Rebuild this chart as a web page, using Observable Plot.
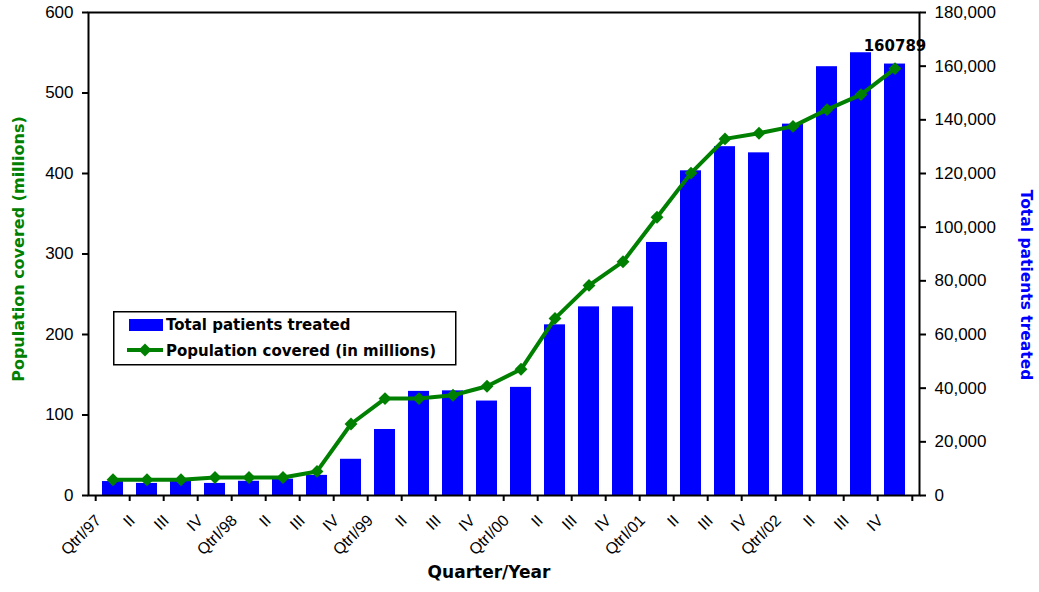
<!DOCTYPE html>
<html>
<head>
<meta charset="utf-8">
<script src="https://cdn.jsdelivr.net/npm/d3@7"></script>
<script src="https://cdn.jsdelivr.net/npm/@observablehq/plot@0.6"></script>
<style>
  body { margin: 0; background: #fff; }
  #wrap { position: relative; width: 1039px; height: 592px; overflow: hidden; }
  #legend { position: absolute; left: 113px; top: 311px; }
</style>
</head>
<body>
<div id="wrap"><div id="chart"></div><div id="legend"></div></div>
<script>
// ---- data ----
const quarterKeys = [
  "1997Q1","1997Q2","1997Q3","1997Q4",
  "1998Q1","1998Q2","1998Q3","1998Q4",
  "1999Q1","1999Q2","1999Q3","1999Q4",
  "2000Q1","2000Q2","2000Q3","2000Q4",
  "2001Q1","2001Q2","2001Q3","2001Q4",
  "2002Q1","2002Q2","2002Q3","2002Q4"
];
const tickLabels = [
  "QtrI/97","II","III","IV",
  "QtrI/98","II","III","IV",
  "QtrI/99","II","III","IV",
  "QtrI/00","II","III","IV",
  "QtrI/01","II","III","IV",
  "QtrI/02","II","III","IV"
];
// Total patients treated (right axis)
const patients = [
  5200, 4500, 5600, 4500, 5300, 6100, 7500, 13500,
  24600, 38800, 39000, 35200, 40300, 63600, 70300, 70300,
  94300, 121000, 130000, 127700, 138400, 159800, 165000, 160789
];
// Population covered in millions (left axis)
const population = [
  19.5, 19.5, 19.5, 22.4, 22.4, 22.4, 29.9, 88.8,
  120.4, 120.4, 124.5, 135.7, 156.8, 220, 261, 290.4,
  345.7, 400.5, 443, 450, 458.5, 479.3, 498, 530.3
];
const leftTicks = [0, 100, 200, 300, 400, 500, 600];
const rightTicks = [0, 20000, 40000, 60000, 80000, 100000, 120000, 140000, 160000, 180000];
const RATIO = 180000 / 600; // right-axis units per left-axis unit

const table = quarterKeys.map((q, i) => ({
  q, label: tickLabels[i], patients: patients[i], population: population[i]
}));

// ---- layout ----
const W = 1039, H = 592;
const mL = 88, mR = 120, mT = 12, mB = 97;
const plotW = W - mL - mR, plotH = H - mT - mB;
const step = plotW / quarterKeys.length;
const BLUE = "#0000ff", GREEN = "#008000";
const BOLD = "DejaVu Sans";

const chart = Plot.plot({
  width: W, height: H,
  marginLeft: mL, marginRight: mR, marginTop: mT, marginBottom: mB,
  style: { fontFamily: "'Liberation Sans', Arial, sans-serif", fontSize: "17px", background: "#fff", color: "#000" },
  x: { type: "band", domain: quarterKeys, paddingInner: 0.38, paddingOuter: 0.19, axis: null },
  y: { domain: [0, 600] },
  marks: [
    Plot.barY(table, { x: "q", y: d => d.patients / RATIO, fill: BLUE }),
    Plot.line(table, { x: "q", y: "population", stroke: GREEN, strokeWidth: 4, curve: "linear" }),
    Plot.dot(table, { x: "q", y: "population", symbol: "diamond2", r: 5.8, fill: GREEN, stroke: "none" }),
    Plot.text([table[table.length - 1]], {
      x: "q", y: d => d.patients / RATIO, text: d => String(d.patients),
      dy: -18, fontFamily: BOLD, fontWeight: "bold", fontSize: 15, fill: "#000"
    }),
    Plot.frame({ stroke: "#000", strokeWidth: 2 }),
    Plot.axisY({
      ticks: leftTicks, tickSize: 6, tickPadding: 9, label: null, strokeWidth: 2,
      fontSize: 17
    }),
    Plot.axisY({
      anchor: "right", ticks: rightTicks.map(v => v / RATIO),
      tickFormat: d => d3.format(",")(Math.round(d * RATIO)),
      tickSize: 6, tickPadding: 9, label: null, strokeWidth: 2, fontSize: 17
    }),
    // category boundary ticks
    Plot.ruleX(table, { x: "q", dx: -step / 2, insetTop: plotH, insetBottom: -6, stroke: "#000", strokeWidth: 2 }),
    Plot.ruleX([table[table.length - 1]], { x: "q", dx: step / 2, insetTop: plotH, insetBottom: -6, stroke: "#000", strokeWidth: 2 }),
    // rotated category labels
    Plot.text(table, {
      x: "q", text: "label", frameAnchor: "bottom", rotate: -45, textAnchor: "end",
      dx: -11, dy: 26, fontSize: 16, fill: "#000"
    }),
    // axis titles
    Plot.text(["Population covered (millions)"], {
      text: d => d, frameAnchor: "left", textAnchor: "middle", rotate: -90, dx: -70, dy: -5,
      fontFamily: BOLD, fontWeight: "bold", fontSize: 16, fill: GREEN
    }),
    Plot.text(["Total patients treated"], {
      text: d => d, frameAnchor: "right", textAnchor: "middle", rotate: 90, dx: 106, dy: 31,
      fontFamily: BOLD, fontWeight: "bold", fontSize: 15.5, fill: BLUE
    }),
    Plot.text(["Quarter/Year"], {
      text: d => d, frameAnchor: "bottom", textAnchor: "middle", dx: -15, dy: 82,
      fontFamily: BOLD, fontWeight: "bold", fontSize: 17, fill: "#000"
    })
  ]
});
document.getElementById("chart").appendChild(chart);

// ---- legend (inside plot area) ----
const lg = d3.select("#legend").append("svg")
  .attr("width", 344).attr("height", 55)
  .style("font-family", BOLD).style("font-weight", "bold").style("font-size", "15px");
lg.append("rect").attr("x", 0.75).attr("y", 0.75).attr("width", 342).attr("height", 53)
  .attr("fill", "#fff").attr("stroke", "#000").attr("stroke-width", 1.5);
lg.append("rect").attr("x", 16).attr("y", 8).attr("width", 34).attr("height", 12).attr("fill", BLUE);
lg.append("text").attr("x", 53).attr("y", 19).text("Total patients treated");
lg.append("line").attr("x1", 14).attr("x2", 50).attr("y1", 39).attr("y2", 39)
  .attr("stroke", GREEN).attr("stroke-width", 4);
lg.append("path").attr("d", "M32,32.5L38.5,39L32,45.5L25.5,39Z").attr("fill", GREEN);
lg.append("text").attr("x", 53).attr("y", 45).text("Population covered (in millions)");
</script>
</body>
</html>
